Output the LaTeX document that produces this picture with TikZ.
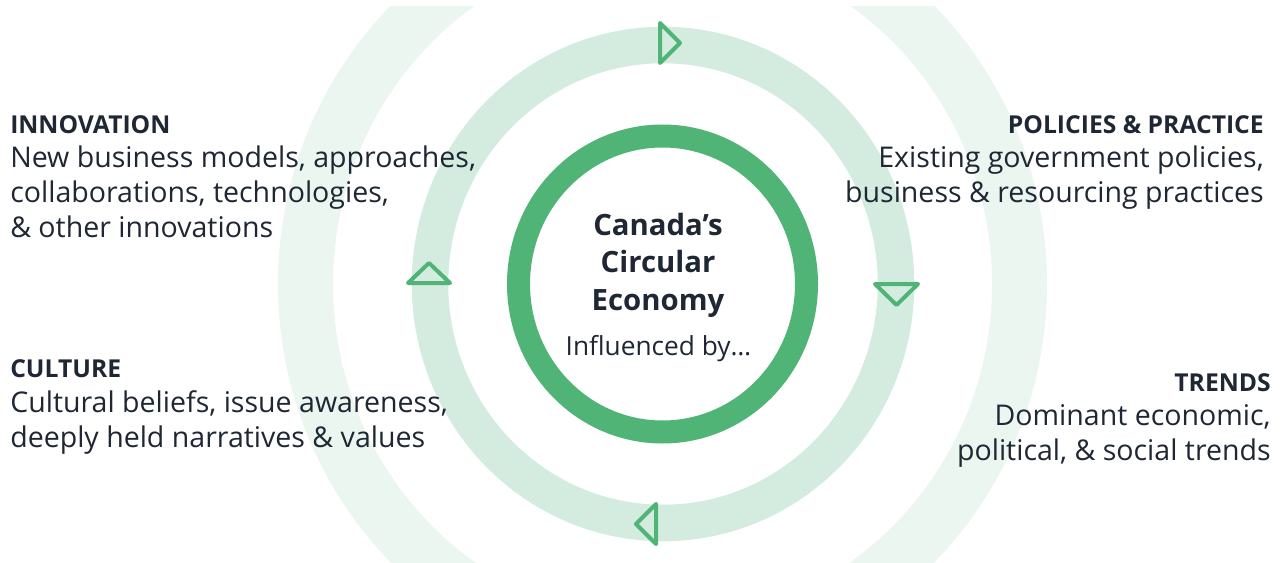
\documentclass[tikz,border=0pt]{standalone}
\usepackage{fontspec}
\usepackage{xcolor}
\usepackage{tikz}
\setmainfont{Open Sans}

\definecolor{ringgreen}{HTML}{4FB476}
\definecolor{bandgreen}{HTML}{D4ECDF}
\definecolor{palegreen}{HTML}{EAF6EF}
\definecolor{inkblue}{HTML}{1E2733}

\tikzset{
  heading/.style={font=\fontsize{18.5}{26}\selectfont\bfseries},
  bodytext/.style={font=\fontsize{21.4}{26.25}\selectfont},
  titletext/.style={font=\fontsize{22}{28.1}\selectfont\bfseries},
  flowtip/.style={draw=ringgreen, line width=3pt, line join=round, line cap=round}
}

\begin{document}
\begin{tikzpicture}[x=0.75pt,y=0.75pt,yscale=-1,xscale=1]
\useasboundingbox (0,0) rectangle (1281,563);

\begin{scope}
\clip (0,7) rectangle (1281,563);
\draw [palegreen, line width=41.25pt] (662.5,284) ellipse [x radius=357, y radius=366];
\end{scope}

\draw [bandgreen, line width=27.4pt] (663,284) ellipse [x radius=233, y radius=239];

\draw [ringgreen, line width=17.25pt] (662.5,284) ellipse [x radius=144, y radius=148];

% arrow heads on the band
\draw [flowtip] (660,23) -- (680,43) -- (660,63) -- cycle ;
\draw [flowtip] (875,284) -- (918,284) -- (896.5,305) -- cycle ;
\draw [flowtip] (656,504) -- (636,524) -- (656,544) -- cycle ;
\draw [flowtip] (408,283) -- (450,283) -- (429,263) -- cycle ;

\draw (658,310) node (title) [anchor=base][inner sep=0pt][align=center][text=inkblue] [titletext] {Canada’s\\Circular\\Economy};
\draw (658.5,355) node (influenced) [anchor=base][inner sep=0pt][text=inkblue] [font=\fontsize{19.7}{26}\selectfont] {Influenced by…};

\draw (10,134) node (innovation) [anchor=base west][inner sep=0pt][text=inkblue] [heading] {INNOVATION};
\draw (10,238) node (innovtext) [anchor=base west][inner sep=0pt][align=left][text=inkblue] [bodytext] {New business models, approaches,\\collaborations, technologies,\\\& other innovations};

\draw (10,377) node (culture) [anchor=base west][inner sep=0pt][text=inkblue] [heading] {CULTURE};
\draw (10,447) node (culturetext) [anchor=base west][inner sep=0pt][align=left][text=inkblue] [bodytext] {Cultural beliefs, issue awareness,\\deeply held narratives \& values};

\draw (1264,134) node (policies) [anchor=base east][inner sep=0pt][text=inkblue] [heading] {POLICIES \& PRACTICE};
\draw (1264,203) node (policytext) [anchor=base east][inner sep=0pt][align=right][text=inkblue] [bodytext] {Existing government policies,\\business \& resourcing practices};

\draw (1271,391) node (trends) [anchor=base east][inner sep=0pt][text=inkblue] [heading] {TRENDS};
\draw (1271,460) node (trendtext) [anchor=base east][inner sep=0pt][align=right][text=inkblue] [bodytext] {Dominant economic,\\political, \& social trends};
\end{tikzpicture}
\end{document}
